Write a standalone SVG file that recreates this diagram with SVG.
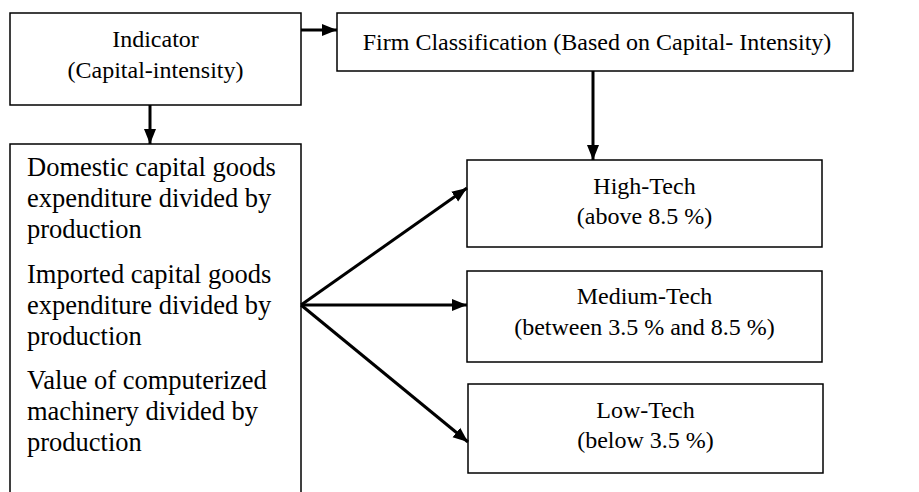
<svg xmlns="http://www.w3.org/2000/svg" width="919" height="492" viewBox="0 0 919 492">
<style>
.box{fill:#fff;stroke:#000;stroke-width:1.5}
.t{font-family:'Liberation Serif','Times New Roman','DejaVu Serif',serif;font-size:24px;fill:#000}
.c{text-anchor:middle}
.big{font-size:26.5px}
.conn{stroke:#000;stroke-width:3;fill:none}
</style>
<defs>
<marker id="ah" markerUnits="userSpaceOnUse" markerWidth="16" markerHeight="14" refX="15" refY="7" orient="auto">
<path d="M0,1 L15,7 L0,13 Z" fill="#000"/>
</marker>
</defs>
<rect width="919" height="492" fill="#fff"/>
<g id="indicator">
<rect class="box" x="10" y="13" width="291" height="92"/>
<text class="t c" x="155.5" y="47">Indicator</text>
<text class="t c" x="155.5" y="78">(Capital-intensity)</text>
</g>
<g id="firm">
<rect class="box" x="337" y="13" width="516" height="58"/>
<text class="t c" x="597" y="50">Firm Classification (Based on Capital- Intensity)</text>
</g>
<g id="measures">
<rect class="box" x="10" y="144" width="291" height="360"/>
<text class="t big" x="27" y="176">Domestic capital goods</text>
<text class="t big" x="27" y="207">expenditure divided by</text>
<text class="t big" x="27" y="238">production</text>
<text class="t big" x="27" y="283">Imported capital goods</text>
<text class="t big" x="27" y="314">expenditure divided by</text>
<text class="t big" x="27" y="345">production</text>
<text class="t big" x="27" y="389">Value of computerized</text>
<text class="t big" x="27" y="420">machinery divided by</text>
<text class="t big" x="27" y="451">production</text>
</g>
<g id="high">
<rect class="box" x="467" y="160" width="355" height="87"/>
<text class="t c" x="644.5" y="194">High-Tech</text>
<text class="t c" x="644.5" y="224">(above 8.5 %)</text>
</g>
<g id="medium">
<rect class="box" x="467" y="271" width="355" height="91"/>
<text class="t c" x="644.5" y="304">Medium-Tech</text>
<text class="t c" x="644.5" y="335">(between 3.5 % and 8.5 %)</text>
</g>
<g id="low">
<rect class="box" x="468" y="384" width="355" height="89"/>
<text class="t c" x="645.5" y="418">Low-Tech</text>
<text class="t c" x="645.5" y="448">(below 3.5 %)</text>
</g>
<g id="connectors">
<line class="conn" x1="301" y1="30" x2="337" y2="30" marker-end="url(#ah)"/>
<line class="conn" x1="150" y1="105" x2="150" y2="144" marker-end="url(#ah)"/>
<line class="conn" x1="593" y1="71" x2="593" y2="160" marker-end="url(#ah)"/>
<line class="conn" x1="301" y1="305" x2="467" y2="188" marker-end="url(#ah)"/>
<line class="conn" x1="301" y1="305" x2="467" y2="305" marker-end="url(#ah)"/>
<line class="conn" x1="301" y1="305" x2="468" y2="442" marker-end="url(#ah)"/>
</g>
</svg>
